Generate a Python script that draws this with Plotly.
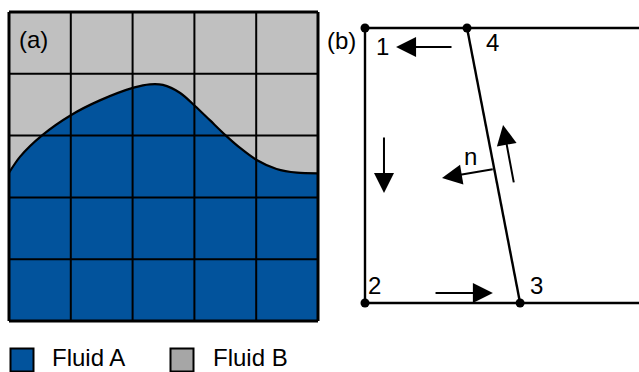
import plotly.graph_objects as go

# ---------------- data ----------------
# Panel (a): 5x5 grid, interface between Fluid A (below) and Fluid B (above)
grid_lines = [0, 1, 2, 3, 4, 5]
interface_x = [0.0, 0.18, 0.53, 1.00, 1.47, 2.03, 2.28, 2.49, 2.77, 3.01, 3.25, 3.51, 3.74, 4.00, 4.33, 4.66, 5.00]
interface_y = [2.40, 2.66, 3.00, 3.33, 3.57, 3.78, 3.83, 3.82, 3.69, 3.48, 3.25, 3.00, 2.80, 2.61, 2.46, 2.40, 2.39]

# Panel (b): nodes of the cut cell
node_labels = ["1", "2", "3", "4"]
node_x = [0.0, 0.0, 0.564, 0.371]
node_y = [1.0, 0.0, 0.0, 1.0]
label_x = [0.062, 0.036, 0.625, 0.462]
label_y = [0.931, 0.065, 0.065, 0.949]
domain_right = 1.05

# arrows: tail -> head
arrow_tail_x = [0.320, 0.069, 0.251, 0.542, 0.470]
arrow_tail_y = [0.931, 0.607, 0.036, 0.433, 0.487]
arrow_head_x = [0.113, 0.069, 0.465, 0.502, 0.280]
arrow_head_y = [0.931, 0.400, 0.036, 0.647, 0.455]
normal_label = "n"
normal_label_x, normal_label_y = 0.385, 0.531

legend_names = ["Fluid A", "Fluid B"]
fluid_a_color = "#02539C"
fluid_b_color = "#C0C0C0"
legend_b_color = "#A6A6A6"

FONT = "Liberation Sans, Arial, sans-serif"
W, H = 639, 372

fig = go.Figure()

# ---------------- panel (a) ----------------
pa = dict(xaxis="x", yaxis="y")
fig.add_trace(go.Scatter(x=[0, 5, 5, 0, 0], y=[0, 0, 5, 5, 0], mode="lines", fill="toself",
                         fillcolor=fluid_b_color, line=dict(width=0), hoverinfo="skip",
                         showlegend=False, **pa))
fig.add_trace(go.Scatter(x=interface_x, y=interface_y, mode="lines", fill="tozeroy",
                         fillcolor=fluid_a_color, line=dict(color="black", width=2.2, shape="spline", smoothing=0.8),
                         hoverinfo="skip", showlegend=False, **pa))
for g in grid_lines:
    w = 3 if g in (0, 5) else 2
    fig.add_trace(go.Scatter(x=[g, g], y=[0, 5], mode="lines", line=dict(color="black", width=w),
                             hoverinfo="skip", showlegend=False, **pa))
    fig.add_trace(go.Scatter(x=[0, 5], y=[g, g], mode="lines", line=dict(color="black", width=w),
                             hoverinfo="skip", showlegend=False, **pa))

# ---------------- panel (b) ----------------
pb = dict(xaxis="x2", yaxis="y2")
seg = [
    ([node_x[0], domain_right], [node_y[0], node_y[0]]),
    ([node_x[1], domain_right], [node_y[1], node_y[1]]),
    ([node_x[0], node_x[1]], [node_y[0], node_y[1]]),
    ([node_x[3], node_x[2]], [node_y[3], node_y[2]]),
]
for sx, sy in seg:
    fig.add_trace(go.Scatter(x=sx, y=sy, mode="lines", line=dict(color="black", width=2.4),
                             hoverinfo="skip", showlegend=False, **pb))
fig.add_trace(go.Scatter(x=node_x, y=node_y, mode="markers", marker=dict(color="black", size=9),
                         cliponaxis=False, hoverinfo="skip", showlegend=False, **pb))

annotations = []
for lab, lx, ly in zip(node_labels, label_x, label_y):
    annotations.append(dict(x=lx, y=ly, xref="x2", yref="y2", text=lab, showarrow=False,
                            font=dict(family=FONT, size=24, color="black")))
annotations.append(dict(x=normal_label_x, y=normal_label_y, xref="x2", yref="y2", text=normal_label,
                        showarrow=False, font=dict(family=FONT, size=24, color="black")))
for tx, ty, hx, hy in zip(arrow_tail_x, arrow_tail_y, arrow_head_x, arrow_head_y):
    annotations.append(dict(x=hx, y=hy, ax=tx, ay=ty, xref="x2", yref="y2", axref="x2", ayref="y2",
                            text="", showarrow=True, arrowhead=2, arrowsize=2, arrowwidth=2,
                            arrowcolor="black", standoff=0, startstandoff=0))
annotations.append(dict(x=-0.085, y=0.956, xref="x2", yref="y2", text="(b)", showarrow=False,
                        font=dict(family=FONT, size=24, color="black")))
annotations.append(dict(x=0.39, y=4.56, xref="x", yref="y", text="(a)", showarrow=False,
                        font=dict(family=FONT, size=24, color="black")))

# ---------------- legend ----------------
pl = dict(xaxis="x3", yaxis="y3")
legend_colors = [fluid_a_color, legend_b_color]
legend_sym_x = [22, 182]
legend_txt_x = [51, 212]
for name, col, sx, txx in zip(legend_names, legend_colors, legend_sym_x, legend_txt_x):
    fig.add_trace(go.Scatter(x=[sx], y=[0.3], mode="markers", cliponaxis=False,
                             marker=dict(symbol="square", size=23, color=col, line=dict(color="black", width=2)),
                             hoverinfo="skip", showlegend=False, **pl))
    annotations.append(dict(x=txx, y=0.0, xref="x3", yref="y3", text=name, showarrow=False,
                            xanchor="left", yanchor="bottom", borderpad=0,
                            font=dict(family=FONT, size=24, color="black")))

# ---------------- layout ----------------
pad = 2 / 61.8
ax_hidden = dict(showgrid=False, zeroline=False, showticklabels=False, ticks="", showline=False, fixedrange=True)
fig.update_layout(
    width=W, height=H,
    margin=dict(l=0, r=0, t=0, b=0),
    paper_bgcolor="white", plot_bgcolor="rgba(0,0,0,0)",
    showlegend=False,
    xaxis=dict(domain=[7 / W, 320 / W], range=[-pad, 5 + pad], **ax_hidden),
    yaxis=dict(domain=[1 - 323 / H, 1 - 10 / H], range=[-pad, 5 + pad], **ax_hidden),
    xaxis2=dict(domain=[320 / W, 1], range=[(320 - 365) / 275, (639 - 365) / 275], **ax_hidden),
    yaxis2=dict(domain=[0, 1], range=[-(372 - 303) / 275, 1 + 28 / 275], **ax_hidden),
    xaxis3=dict(domain=[0, 1], range=[0, W], **ax_hidden),
    yaxis3=dict(domain=[0, 40 / H], range=[0, 1], **ax_hidden),
    annotations=annotations,
)

fig.write_html("out.html", config={"staticPlot": True},
               post_script="document.body.style.margin='0';document.body.style.overflow='hidden';")
